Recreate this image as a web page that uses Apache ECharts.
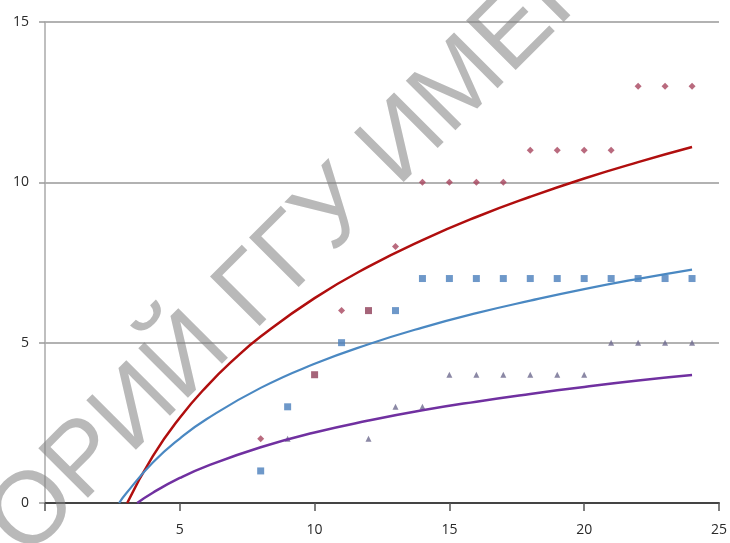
<!DOCTYPE html>
<html>
<head>
<meta charset="utf-8">
<script src="https://cdn.jsdelivr.net/npm/echarts@6/dist/echarts.min.js"></script>
<style>html,body{margin:0;padding:0;background:#fff}#c{width:730px;height:543px}</style>
</head>
<body>
<div id="c"></div>
<script>
// Data
var xTicks = [0, 5, 10, 15, 20, 25];
var yTicks = [0, 5, 10, 15];

var redPoints = [[8,2],[11,6],[13,8],[14,10],[15,10],[16,10],[17,10],[18,11],[19,11],[20,11],[21,11],[22,13],[23,13],[24,13]];
var bluePoints = [[8,1],[9,3],[11,5],[13,6],[14,7],[15,7],[16,7],[17,7],[18,7],[19,7],[20,7],[21,7],[22,7],[23,7],[24,7]];
var overlapPoints = [[10,4],[12,6]];
var trianglePoints = [[9,2],[12,2],[13,3],[14,3],[15,4],[16,4],[17,4],[18,4],[19,4],[20,4],[21,5],[22,5],[23,5],[24,5]];

var redTrend = [[3.05,0],[4,1.46],[5,2.66],[6,3.64],[7,4.47],[8,5.19],[10,6.39],[12,7.37],[14,8.20],[16,8.92],[18,9.55],[20,10.12],[22,10.63],[24,11.10]];
var blueTrend = [[2.75,0],[3,0.29],[4,1.26],[5,2.01],[6,2.62],[8,3.59],[10,4.34],[12,4.95],[14,5.47],[16,5.92],[18,6.31],[20,6.67],[22,6.99],[24,7.28]];
var purpleTrend = [[3.42,0],[4,0.32],[5,0.78],[6,1.15],[8,1.74],[10,2.20],[12,2.57],[14,2.89],[16,3.16],[18,3.40],[20,3.62],[22,3.82],[24,3.99]];

var watermark = 'ОРИЙ ГГУ ИМЕНИ';

var chart = echarts.init(document.getElementById('c'), null, {renderer: 'canvas'});
var ang = 45 * Math.PI / 180;
var option = {
  animation: false,
  backgroundColor: '#fff',
  grid: {left: 45, right: 11, top: 22, bottom: 40, containLabel: false},
  xAxis: {
    type: 'value', min: xTicks[0], max: xTicks[xTicks.length-1], interval: 5,
    axisLine: {show: true, onZero: false, lineStyle: {color: '#444', width: 2}},
    axisTick: {show: true, length: 8, lineStyle: {color: '#555', width: 1.5}},
    axisLabel: {
      color: '#2a2a2a', fontSize: 14, fontFamily: 'Open Sans', margin: 20,
      formatter: function (v) { return v === 0 ? '' : String(v); }
    },
    splitLine: {show: false}
  },
  yAxis: {
    type: 'value', min: yTicks[0], max: yTicks[yTicks.length-1], interval: 5,
    axisLine: {show: true, lineStyle: {color: '#aaa', width: 1.5}},
    axisTick: {show: true, length: 6, lineStyle: {color: '#999', width: 1.5}},
    axisLabel: {color: '#2a2a2a', fontSize: 14, fontFamily: 'Open Sans', margin: 16},
    splitLine: {show: true, lineStyle: {color: '#999', width: 1.5}}
  },
  series: [
    {type: 'scatter', data: bluePoints, symbol: 'rect', symbolSize: 7, itemStyle: {color: '#4A7EBB'}, z: 3},
    {type: 'scatter', data: overlapPoints, symbol: 'rect', symbolSize: 7, itemStyle: {color: '#8E3D58'}, z: 3},
    {type: 'scatter', data: redPoints, symbol: 'diamond', symbolSize: 7, itemStyle: {color: '#A8455E'}, z: 3},
    {type: 'scatter', data: trianglePoints, symbol: 'triangle', symbolSize: 6, itemStyle: {color: '#6E6A8E'}, z: 3},
    {type: 'line', data: redTrend, smooth: true, showSymbol: false, symbol: 'none', lineStyle: {color: '#B00E0E', width: 2.5}, z: 4},
    {type: 'line', data: blueTrend, smooth: true, showSymbol: false, symbol: 'none', lineStyle: {color: '#4A88C2', width: 2.2}, z: 4},
    {type: 'line', data: purpleTrend, smooth: true, showSymbol: false, symbol: 'none', lineStyle: {color: '#7030A0', width: 2.5}, z: 4}
  ],
  graphic: [{
    type: 'text',
    x: 6, y: 540,
    rotation: ang,
    z: 100,
    silent: true,
    style: {
      text: watermark,
      fontSize: 102,
      fontFamily: 'Liberation Sans',
      fill: 'rgba(128,128,128,0.55)',
      align: 'left',
      verticalAlign: 'middle'
    }
  }]
};
chart.setOption(option);
</script>
</body>
</html>
